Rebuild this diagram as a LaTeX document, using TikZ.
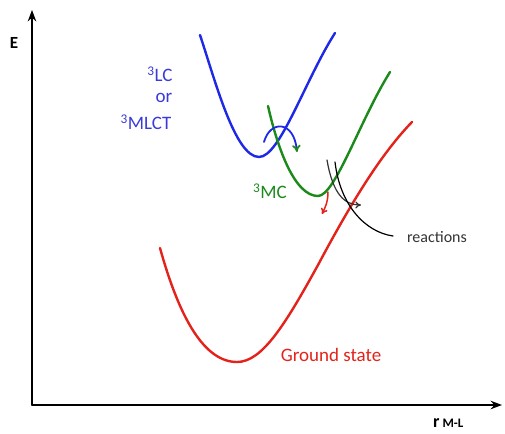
\documentclass[tikz,border=0pt]{standalone}
\usepackage{fontspec}
\setmainfont{Carlito}
\usepackage{tikz}
\usetikzlibrary{arrows.meta}
\definecolor{lcblue}{HTML}{1E28E6}
\definecolor{lctext}{HTML}{3A3AD8}
\definecolor{mcgreen}{HTML}{1B8A1B}
\definecolor{gsred}{HTML}{E3231B}
\definecolor{reacgray}{HTML}{333333}
\tikzset{
    curve/.style={line width=2.4pt, line cap=round, line join=round},
    lab/.style={font=\fontsize{19}{22}\selectfont, inner sep=0pt}
}

\begin{document}
\begin{tikzpicture}[x=1pt,y=-1pt,line cap=round,line join=round]
\useasboundingbox (0,0) rectangle (505,433);

% axes
\coordinate (origin) at (32,405);
\coordinate (etop) at (32,10);
\coordinate (rend) at (502,405);
\draw[line width=1.6pt, -{Stealth[length=4mm,width=3mm]}] (origin) -- (etop);
\draw[line width=1.6pt, -{Stealth[length=4mm,width=3mm]}] (origin) -- (rend);
\node[font=\fontsize{17}{20}\selectfont\bfseries] (elab) at (14,43) {E};
\node[anchor=base west, inner sep=0pt] (rlab) at (433,427)
  {\fontsize{18}{20}\selectfont\bfseries r\,\fontsize{13}{15}\selectfont M-L};

% excited state wells
\draw[curve, lcblue] (200,35) .. controls (215,80) and (235,157) .. (259,157)
  .. controls (280,157) and (305,80) .. (335,33);
\draw[curve, mcgreen] (268,106) .. controls (278,150) and (295,196) .. (318,196)
  .. controls (335,196) and (360,120) .. (390,72);

% ground state well
\draw[curve, gsred] (160,248) .. controls (180,320) and (205,362) .. (237,362)
  .. controls (262,362) and (285,325) .. (318,265)
  .. controls (350,205) and (380,155) .. (412,122);

% crossing arrows
\draw[lcblue, line width=1.8pt, -{To[length=2.5mm,width=3mm,mcgreen]}]
  (264,142) .. controls (270,120) and (294,120) .. (297,152);
\draw[gsred, line width=1.5pt, -{To[length=2mm,width=2.5mm]}]
  (328,192) .. controls (328,202) and (325,208) .. (322,214);
\draw[reacgray, line width=1.2pt, -{To[length=2mm,width=2.5mm]}]
  (327,160) .. controls (333,195) and (345,205) .. (361,205);
\draw[black, line width=1.2pt]
  (335,162) .. controls (340,205) and (365,232) .. (393,236);

% labels
\node[lab, text=lctext] (lc) at (160,74) {\textsuperscript{3}LC};
\node[lab, text=lctext] (or) at (164,98) {or};
\node[lab, text=lctext] (mlct) at (146,122) {\textsuperscript{3}MLCT};
\node[lab, text=mcgreen] (mc) at (270,191) {\textsuperscript{3}MC};
\node[lab, text=reacgray, font=\fontsize{16}{19}\selectfont] (reac) at (437,237) {reactions};
\node[lab, text=gsred] (gs) at (331,355) {Ground state};

\end{tikzpicture}
\end{document}
